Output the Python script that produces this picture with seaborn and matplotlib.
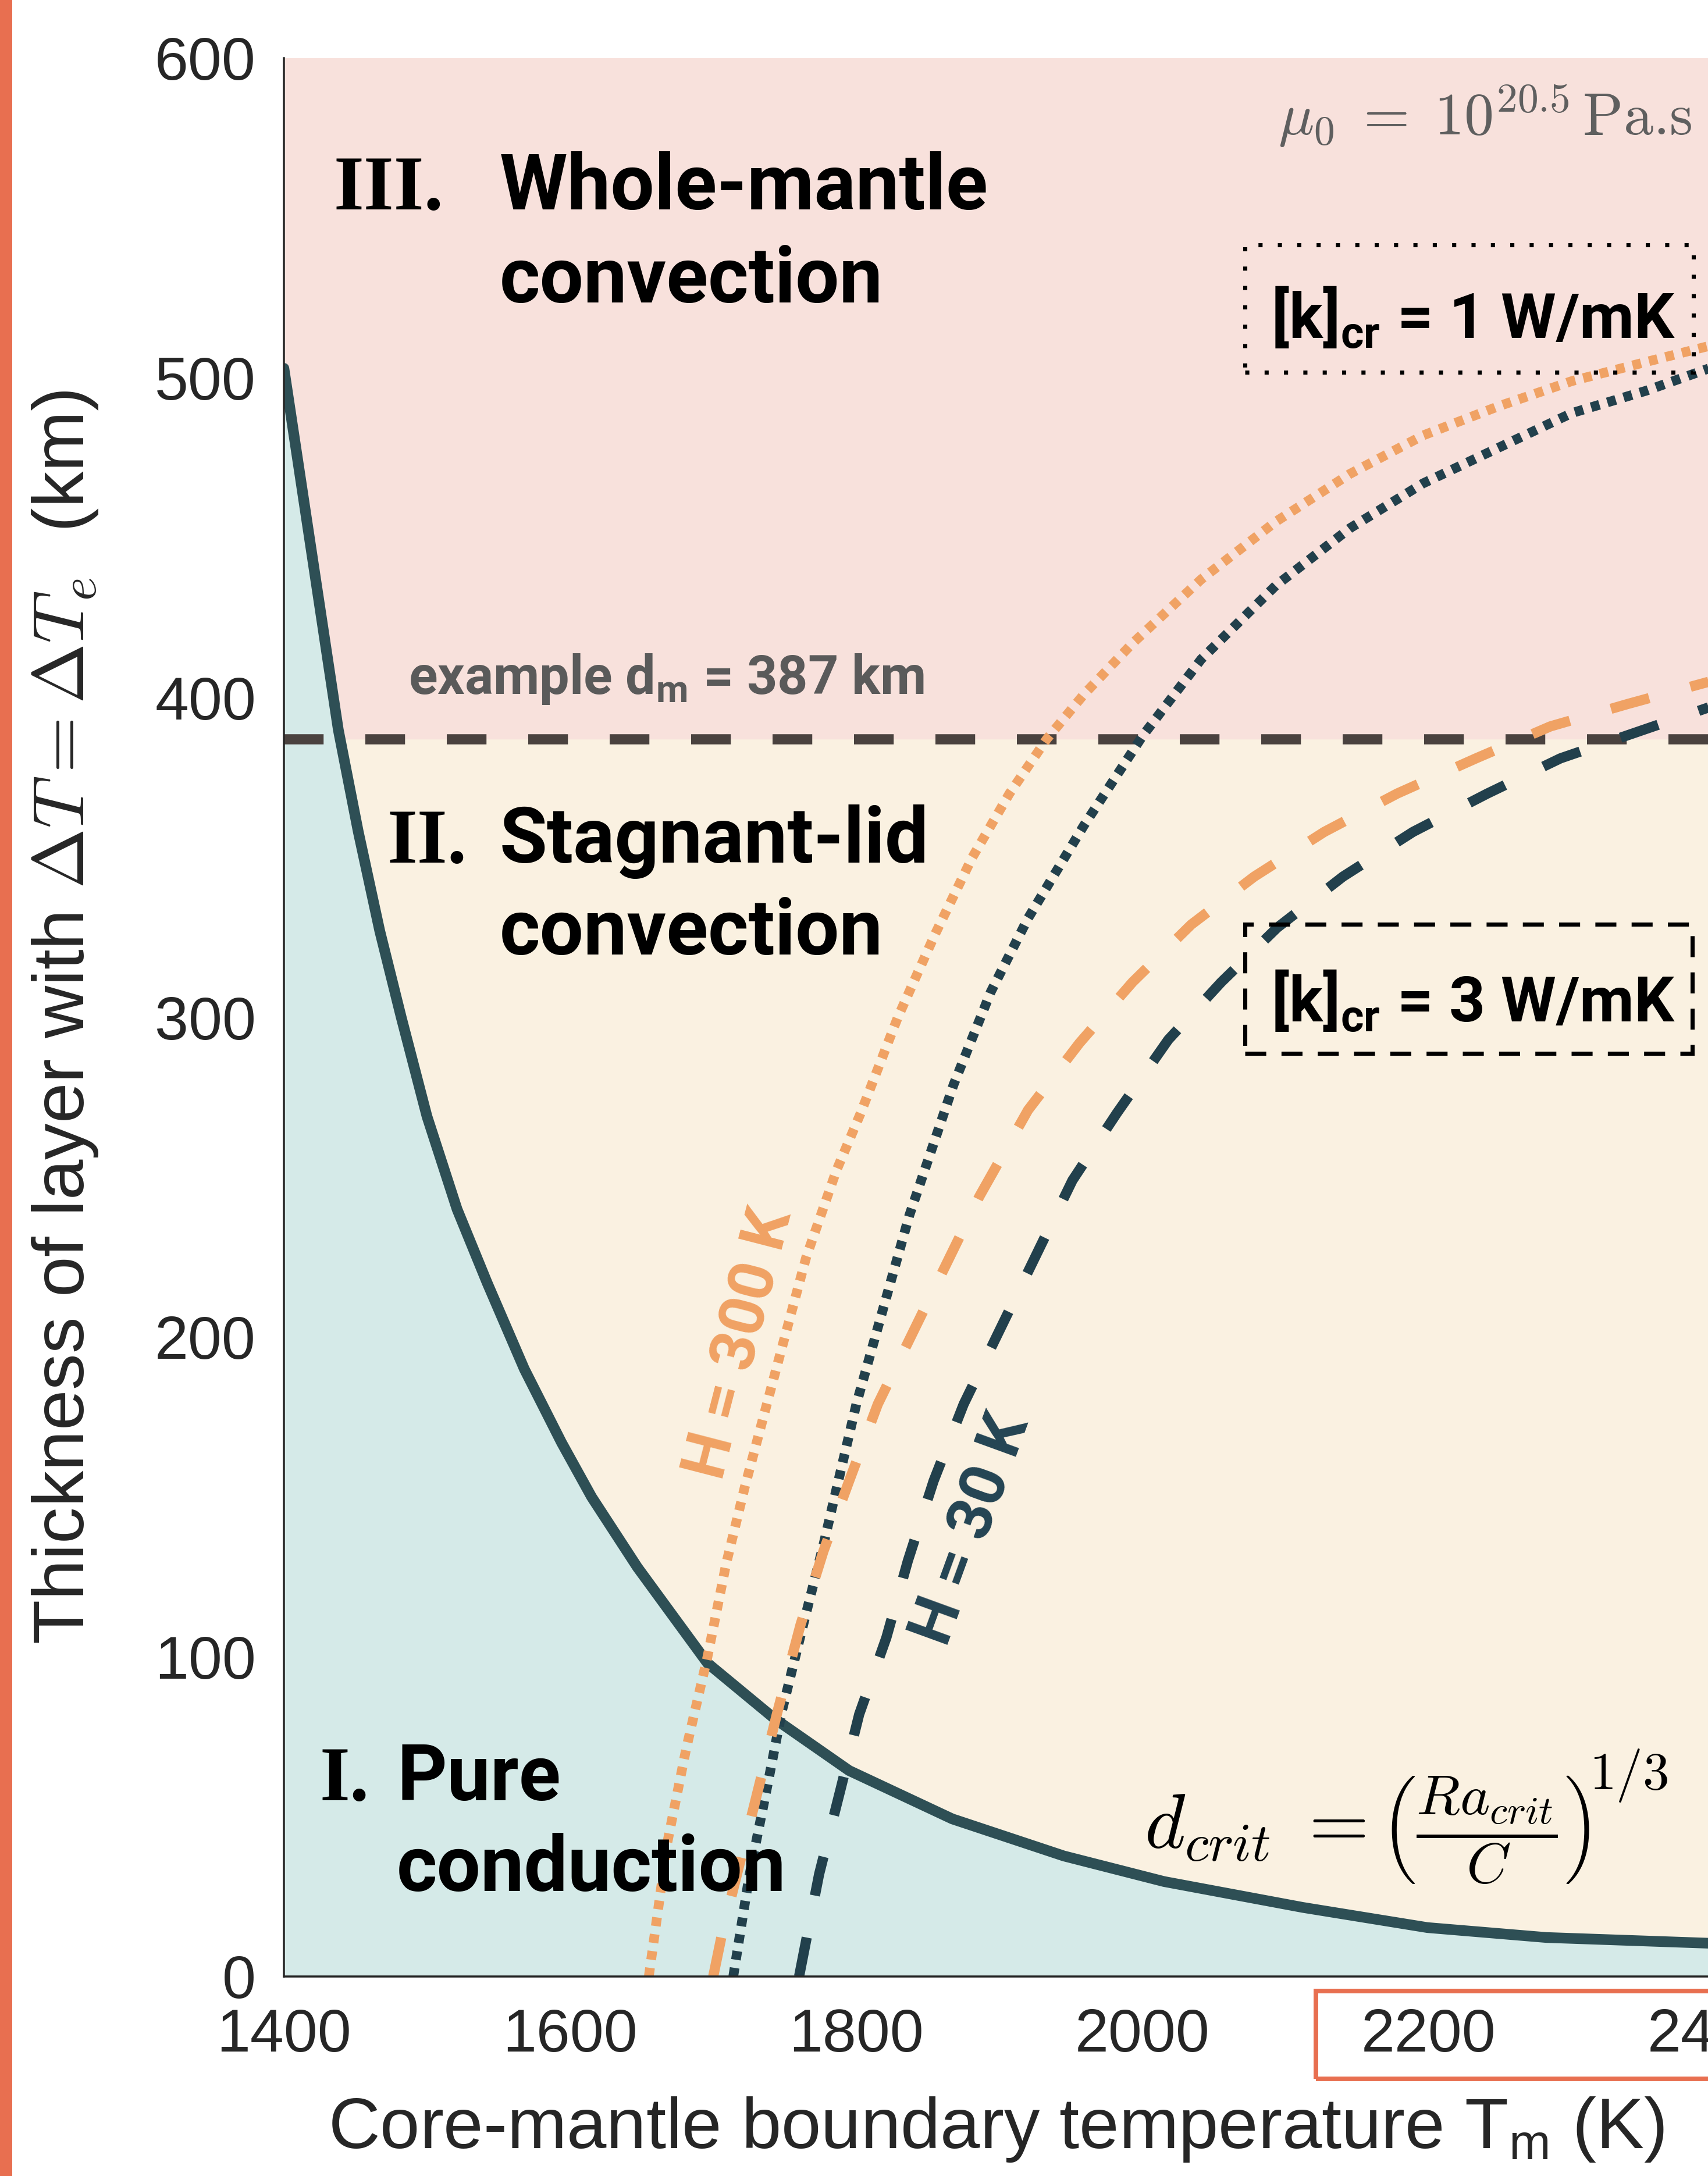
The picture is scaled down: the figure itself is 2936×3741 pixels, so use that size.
import numpy as np
import pandas as pd
import matplotlib
matplotlib.use("Agg")
import matplotlib.pyplot as plt
from matplotlib.patches import Rectangle
import seaborn as sns

# ---------------- data ----------------
# critical thickness curve d_crit(T_m)
tm_crit = [1400, 1438, 1452, 1467, 1482, 1500, 1521, 1542, 1568, 1594,
           1615, 1647, 1696, 1743, 1795, 1867, 1945, 2015, 2112, 2199, 2282, 2396]
d_crit = [503, 390, 358, 327, 300, 269, 240, 217, 190, 167,
          150, 128, 98, 80.6, 64.4, 49.3, 37.7, 29.7, 21.6, 15.3, 12.2, 10.4]

# [k]cr = 1 W/mK, H = 300 K (orange dotted)
tm_k1_h300 = [1655, 1668, 1681, 1696, 1709, 1722, 1744, 1765, 1786, 1803, 1829, 1855,
              1881, 1907, 1933, 1959, 1993, 2041, 2093, 2145, 2196, 2248, 2300, 2352, 2396]
d_k1_h300 = [0, 42, 71, 100, 129, 153, 190, 225, 252, 270, 300, 326,
             350, 370, 387, 401, 417, 437, 455, 470, 482, 491, 499, 505, 510]

# [k]cr = 1 W/mK, H = 30 K (dark dotted)
tm_k1_h30 = [1714, 1725, 1738, 1748, 1764, 1777, 1789, 1800, 1837, 1868, 1894, 1920,
             1959, 2000, 2041, 2093, 2145, 2196, 2248, 2300, 2352, 2396]
d_k1_h30 = [0, 31, 60, 83, 112, 135, 158, 179, 238, 279, 308, 331,
            360, 388, 412, 435, 453, 467, 478, 489, 496, 503]

# [k]cr = 3 W/mK, H = 300 K (orange dashed)
tm_k3_h300 = [1700, 1706, 1730, 1745, 1761, 1777, 1795, 1815, 1886, 1920, 1956, 1993,
              2034, 2078, 2127, 2178, 2233, 2285, 2339, 2396]
d_k3_h300 = [0, 13, 56, 83, 110, 133, 155, 179, 244, 271, 292, 311,
             329, 344, 358, 370, 381, 391, 398, 405]

# [k]cr = 3 W/mK, H = 30 K (dark dashed)
tm_k3_h30 = [1760, 1774, 1789, 1802, 1821, 1836, 1854, 1875, 1951, 1982, 2018, 2055,
             2094, 2140, 2189, 2241, 2292, 2344, 2396]
d_k3_h30 = [0, 32, 58.6, 82, 106, 130, 155, 179, 249, 270, 293, 311,
            328, 344, 358, 370, 381, 389, 397]

d_m_example = 387
x_ticks = [1400, 1600, 1800, 2000, 2200, 2400, 2600]
y_ticks = [0, 100, 200, 300, 400, 500, 600]

# ---------------- style ----------------
sns.set_theme(style="white")
plt.rcParams["font.family"] = ["Liberation Sans", "DejaVu Sans"]
plt.rcParams["mathtext.fontset"] = "cm"
plt.rcParams["mathtext.rm"] = "Liberation Sans"
plt.rcParams["mathtext.it"] = "Liberation Sans:italic"
plt.rcParams["mathtext.bf"] = "Roboto:bold"

C_PINK = "#F8E1DC"
C_CREAM = "#FAF1E1"
C_TEAL = "#D5EAE8"
C_SOLID = "#2E4F55"
C_ORANGE = "#F0A264"
C_DARK = "#22404C"
C_DM = "#4A423F"
C_TXT = "#262626"
C_RED = "#E86F50"

W, H = 2937, 3741
DPI = 300
fig = plt.figure(figsize=(W / DPI, H / DPI), dpi=DPI)
fig.patch.set_facecolor("white")

# axes geometry (axes run past the right edge of the picture, as in the cropped original)
x0_px, y0_px, ytop_px = 488, 3398, 100
px_per_K = 2.46
ax_w_px = (2600 - 1400) * px_per_K
ax = fig.add_axes([x0_px / W, (H - y0_px) / H, ax_w_px / W, (y0_px - ytop_px) / H])
ax.set_xlim(1400, 2600)
ax.set_ylim(0, 600)
ax.set_facecolor(C_PINK)

tm_c = np.array(tm_crit, dtype=float)
d_c = np.array(d_crit, dtype=float)

# regime fills
ax.fill_between(tm_c, 0, d_c, color=C_TEAL, lw=0, zorder=0.5)
ax.fill_between(tm_c, d_c, d_m_example, where=d_c <= d_m_example, interpolate=True,
                color=C_CREAM, lw=0, zorder=0.5)

# example d_m line
ax.axhline(d_m_example, color=C_DM, linewidth=4.2, linestyle=(0, (3.9, 4.1)), zorder=2)

# critical thickness curve
sns.lineplot(x=tm_crit, y=d_crit, ax=ax, color=C_SOLID, linewidth=4.4, sort=False,
             estimator=None, zorder=3)

# H / k curves
curves = [
    (tm_k1_h300, d_k1_h300, C_ORANGE, (0, (0.9, 0.85)), 4.0),
    (tm_k1_h30, d_k1_h30, C_DARK, (0, (0.9, 0.85)), 4.0),
    (tm_k3_h300, d_k3_h300, C_ORANGE, (0, (3.9, 4.2)), 4.2),
    (tm_k3_h30, d_k3_h30, C_DARK, (0, (3.9, 4.2)), 4.2),
]
for xs, ys, col, ls, lw in curves:
    sns.lineplot(x=xs, y=ys, ax=ax, color=col, linewidth=lw, linestyle=ls, sort=False,
                 estimator=None, zorder=4)

# axes styling (MATLAB-like: inward ticks, no top/right box)
for s in ["top", "right"]:
    ax.spines[s].set_visible(False)
for s in ["left", "bottom"]:
    ax.spines[s].set_color(C_TXT)
    ax.spines[s].set_linewidth(0.85)
    ax.spines[s].set_zorder(6)
ax.set_xticks(x_ticks)
ax.set_yticks(y_ticks)
ax.tick_params(axis="both", direction="in", length=7.8, width=0.8, colors=C_TXT,
               labelsize=25)
ax.tick_params(axis="y", pad=11.5)
ax.tick_params(axis="x", pad=13)
ax.grid(False)

ax.set_xlabel(r"Core-mantle boundary temperature T$_\mathrm{m}$ (K)", fontsize=29.5,
              color=C_TXT, math_fontfamily="custom")
ax.xaxis.set_label_coords((1712 - x0_px) / ax_w_px, (y0_px - 3693) / (y0_px - ytop_px))
ax.xaxis.label.set_va("baseline")

ax.set_ylabel(r"Thickness of layer with $\Delta T = \Delta T_e$  (km)", fontsize=30,
              color=C_TXT, math_fontfamily="cm")
ax.yaxis.set_label_coords((112 - x0_px) / ax_w_px, 0.5)
ax.yaxis.label.set_va("center")

# ---------------- annotations ----------------
bold_sans = dict(family="Roboto", weight="bold", color="black", fontsize=32, zorder=7)
serif = dict(family="Liberation Serif", weight="bold", color="black", fontsize=32, zorder=7)

ax.text(1434.6, 552.7, "III.", **serif)
ax.text(1550.8, 552.7, "Whole-mantle", **bold_sans)
ax.text(1550.8, 523.6, "convection", **bold_sans)

ax.text(1472.0, 348.4, "II.", **serif)
ax.text(1550.8, 348.4, "Stagnant-lid", **bold_sans)
ax.text(1550.8, 319.6, "convection", **bold_sans)

ax.text(1424.8, 55.1, "I.", **serif)
ax.text(1478.9, 55.1, "Pure", **bold_sans)
ax.text(1478.9, 26.7, "conduction", **bold_sans)

ax.text(1487, 401.1, r"example d$_\mathbf{m}$ = 387 km", family="Roboto", weight="bold",
        color="#5A5A5A", fontsize=22, math_fontfamily="custom", va="baseline", zorder=7)

ax.text(2094.7, 576, r"$\mu_0\;=\;10^{20.5}\,$Pa.s", family="cmr10", color="#5F5F5F",
        fontsize=24.5, math_fontfamily="cm", va="baseline", zorder=7)

# d_crit formula (three pieces so the brackets can be tall, as in the original)
ax.text(2001.2, 40.2, r"$d_{crit}\;=$", color="black", fontsize=32, math_fontfamily="cm",
        va="baseline", ha="left", zorder=7)
ax.text(2166.3, 46.0, r"$\left(\dfrac{Ra_{crit}}{C}\right)$", color="black", fontsize=23.5,
        math_fontfamily="cm", va="center", ha="left", zorder=7)
ax.text(2312.3, 58.5, r"$1/3$", color="black", fontsize=22, math_fontfamily="cm",
        va="baseline", ha="left", zorder=7)

ax.text(1718.7, 197.9, "H = 300 K", family="Roboto", weight="bold", color=C_ORANGE,
        fontsize=26, rotation=75.5, rotation_mode="anchor", ha="center", va="center", zorder=7)
ax.text(1880.5, 139.7, "H = 30 K", family="Roboto", weight="bold", color="#244453",
        fontsize=26, rotation=70, rotation_mode="anchor", ha="center", va="center", zorder=7)

# [k]cr boxes
ax.text(2231, 512.3, r"[k]$_\mathbf{cr}$ = 1 W/mK", family="Roboto", weight="bold",
        color="black", fontsize=26, math_fontfamily="custom", ha="center", va="baseline",
        zorder=7)
ax.add_patch(Rectangle((2071.5, 501.7), 2384.9 - 2071.5, 541.6 - 501.7, fill=False,
                       ec="black", lw=1.7, linestyle=(0, (1, 3.7)), zorder=7))
ax.text(2231, 298.5, r"[k]$_\mathbf{cr}$ = 3 W/mK", family="Roboto", weight="bold",
        color="black", fontsize=26, math_fontfamily="custom", ha="center", va="baseline",
        zorder=7)
ax.add_patch(Rectangle((2071.5, 288.7), 2384.1 - 2071.5, 329.1 - 288.7, fill=False,
                       ec="black", lw=1.7, linestyle=(0, (5.1, 3.7)), zorder=7))

# highlight frame around the 2200/2400 tick labels and left accent bar
fig.add_artist(Rectangle((2262 / W, (H - 3574) / H), (3000 - 2262) / W, (3574 - 3423) / H,
                         transform=fig.transFigure, fill=False, ec=C_RED, lw=1.9,
                         clip_on=False, zorder=10))
fig.add_artist(Rectangle((0, 0), 21 / W, 1, transform=fig.transFigure, fc=C_RED, ec="none",
                         clip_on=False, zorder=10))

fig.savefig("out.png", dpi=DPI, facecolor="white")
